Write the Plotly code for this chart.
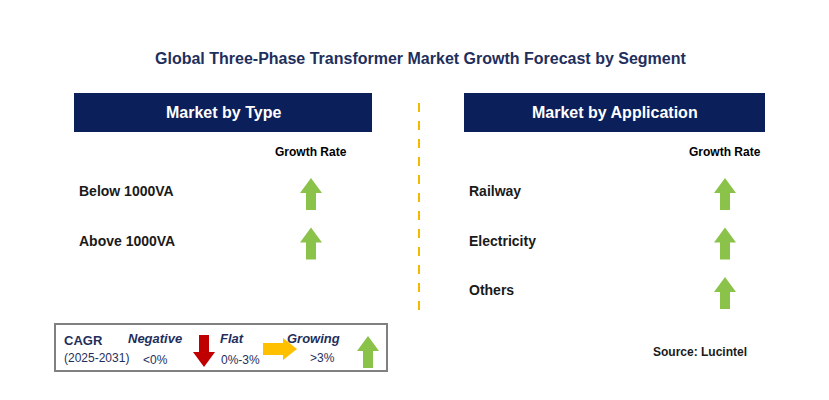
import plotly.graph_objects as go

title = "Global Three-Phase Transformer Market Growth Forecast by Segment"
panels = ["Market by Type", "Market by Application"]
type_items = ["Below 1000VA", "Above 1000VA"]
type_growth = ["up", "up"]
app_items = ["Railway", "Electricity", "Others"]
app_growth = ["up", "up", "up"]

NAVY = "#0B1F5B"
GREEN = "#8BC34A"
RED = "#C00000"
YELLOW = "#FFC000"
FONT = "Liberation Sans"

fig = go.Figure()
shapes = []
ann = []


def up_arrow(cx, top, color=GREEN, h=32, hw=11, sw=5, hh=15):
    return dict(type="path", line=dict(width=0), fillcolor=color,
                path=f"M{cx},{top} L{cx+hw},{top+hh} L{cx+sw},{top+hh} L{cx+sw},{top+h} "
                     f"L{cx-sw},{top+h} L{cx-sw},{top+hh} L{cx-hw},{top+hh} Z")


def down_arrow(cx, top, color=RED, h=32, hw=11, sw=5, hh=15):
    b = top + h
    return dict(type="path", line=dict(width=0), fillcolor=color,
                path=f"M{cx},{b} L{cx+hw},{b-hh} L{cx+sw},{b-hh} L{cx+sw},{top} "
                     f"L{cx-sw},{top} L{cx-sw},{b-hh} L{cx-hw},{b-hh} Z")


def right_arrow(left, cy, color=YELLOW, w=34, hh=11, sw=6, hl=14):
    r = left + w
    return dict(type="path", line=dict(width=0), fillcolor=color,
                path=f"M{r},{cy} L{r-hl},{cy-hh} L{r-hl},{cy-sw} L{left},{cy-sw} "
                     f"L{left},{cy+sw} L{r-hl},{cy+sw} L{r-hl},{cy+hh} Z")


ann.append(dict(x=420, y=58, text="<b>" + title + "</b>", font=dict(size=16, color="#1F2F5C")))

cols = [(74, 372, 311, 77, type_items, type_growth),
        (464, 765, 725, 467, app_items, app_growth)]
for (x0, x1, ax, lx, items, growth), name in zip(cols, panels):
    shapes.append(dict(type="rect", x0=x0, x1=x1, y0=93, y1=132, fillcolor=NAVY, line=dict(width=0)))
    ann.append(dict(x=(x0 + x1) / 2, y=112, text="<b>" + name + "</b>", font=dict(size=16, color="white")))
    ann.append(dict(x=ax, y=152, text="<b>Growth Rate</b>", font=dict(size=12, color="black")))
    for i, (it, g) in enumerate(zip(items, growth)):
        y = 191 + i * 49.5
        ann.append(dict(x=lx, y=y, text="<b>" + it + "</b>", xanchor="left", font=dict(size=14, color="#1a1a1a")))
        shapes.append(up_arrow(ax, y - 13) if g == "up" else down_arrow(ax, y - 13))

shapes.append(dict(type="line", x0=419, x1=419, y0=103, y1=310, line=dict(color="#F5B800", width=2, dash="dash")))

# legend box
shapes.append(dict(type="rect", x0=55, x1=387, y0=324, y1=371, line=dict(color="#808080", width=2)))
ann += [
    dict(x=62, y=340, text="<b>CAGR</b>", xanchor="left", font=dict(size=13, color="#1F2F5C")),
    dict(x=62, y=358, text="(2025-2031)", xanchor="left", font=dict(size=12, color="#1F2F5C")),
    dict(x=155, y=338, text="<b><i>Negative</i></b>", font=dict(size=13, color="#1F2F5C")),
    dict(x=155, y=360, text="<0%", font=dict(size=12, color="#1F2F5C")),
    dict(x=232, y=338, text="<b><i>Flat</i></b>", font=dict(size=13, color="#1F2F5C")),
    dict(x=240, y=360, text="0%-3%", font=dict(size=12, color="#1F2F5C")),
    dict(x=313, y=338, text="<b><i>Growing</i></b>", font=dict(size=13, color="#1F2F5C")),
    dict(x=322, y=358, text=">3%", font=dict(size=12, color="#1F2F5C")),
    dict(x=700, y=352, text="<b>Source: Lucintel</b>", font=dict(size=12, color="#1a1a1a")),
]
shapes.append(down_arrow(204, 335, h=32))
shapes.append(right_arrow(263, 349, w=34))
shapes.append(up_arrow(368, 336, h=32))

for a in ann:
    a.update(xref="x", yref="y", showarrow=False)
    a.setdefault("xanchor", "center")
    a["yanchor"] = "middle"

# page body adds an 8px offset, so shift the visible window to compensate
fig.update_layout(width=829, height=400, margin=dict(l=0, r=0, t=0, b=0),
                  paper_bgcolor="white", plot_bgcolor="white",
                  font=dict(family=FONT),
                  xaxis=dict(range=[8, 837], visible=False, fixedrange=True),
                  yaxis=dict(range=[408, 8], visible=False, fixedrange=True),
                  shapes=shapes, annotations=ann, showlegend=False)
fig.write_html("out.html", config={"displayModeBar": False})
